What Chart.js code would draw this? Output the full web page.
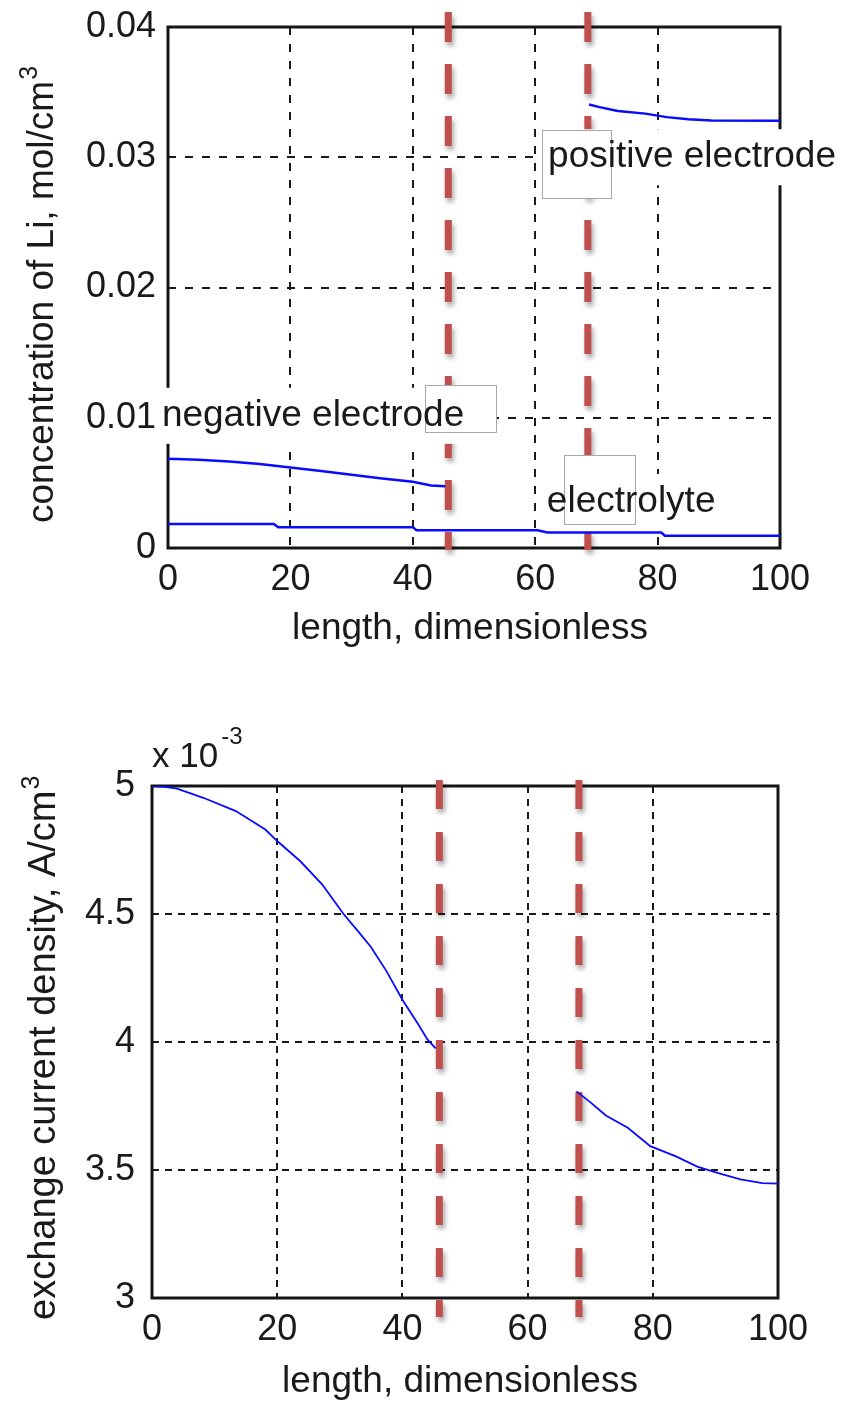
<!DOCTYPE html>
<html>
<head>
<meta charset="utf-8">
<script src="https://cdn.jsdelivr.net/npm/chart.js@4/dist/chart.umd.min.js"></script>
<style>
  html, body { margin: 0; padding: 0; background: #fff; }
  body { width: 842px; height: 1406px; position: relative; overflow: hidden; }
  .wrap { position: absolute; left: 0; width: 842px; }
  #w1 { top: 0; height: 700px; }
  #w2 { top: 700px; height: 706px; }
</style>
</head>
<body>
<div class="wrap" id="w1"><canvas id="c1" width="842" height="700"></canvas></div>
<div class="wrap" id="w2"><canvas id="c2" width="842" height="706"></canvas></div>
<script>
// ---------- data ----------
const xTickValues = [0, 20, 40, 60, 80, 100];
const xTickLabels = ['0', '20', '40', '60', '80', '100'];
const topYTickValues = [0, 0.01, 0.02, 0.03, 0.04];
const topYTickLabels = ['0', '0.01', '0.02', '0.03', '0.04'];
const botYTickValues = [3, 3.5, 4, 4.5, 5];
const botYTickLabels = ['3', '3.5', '4', '4.5', '5'];

// top chart: concentration of Li (mol/cm^3)
const negElectrodeX = [0, 5, 10, 15, 20, 25, 30, 35, 40, 43, 45.3];
const negElectrodeC = [0.00685, 0.00678, 0.00664, 0.00645, 0.00618, 0.00592, 0.00562, 0.00534, 0.00508, 0.0048, 0.00474];
const electrolyteX = [0, 17.3, 18, 40, 40.6, 60.4, 62, 80.6, 81.2, 100];
const electrolyteC = [0.00185, 0.00185, 0.0016, 0.0016, 0.00136, 0.00136, 0.00119, 0.00119, 0.00094, 0.00094];
const posElectrodeX = [68.8, 70.5, 73.5, 78, 81.5, 85, 88.8, 100];
const posElectrodeC = [0.03405, 0.03385, 0.03355, 0.03335, 0.03308, 0.03292, 0.03282, 0.0328];

// bottom chart: exchange current density (x 10^-3 A/cm^3)
const exNegX = [0, 2, 4, 8.2, 13.4, 18.1, 20, 23.7, 27.2, 30.6, 33, 35, 37.5, 40, 42.5, 44, 45.3];
const exNegI = [5.0, 4.997, 4.99, 4.954, 4.902, 4.83, 4.785, 4.706, 4.615, 4.5, 4.43, 4.37, 4.275, 4.165, 4.07, 4.01, 3.975];
const exPosX = [67.8, 70, 72.5, 76, 79.6, 83.7, 87.1, 90.6, 94, 97.5, 100];
const exPosI = [3.807, 3.765, 3.713, 3.665, 3.593, 3.553, 3.513, 3.487, 3.463, 3.449, 3.447];

// region boundaries (dimensionless length) and their vertical extent
const boundaryTopX = [45.8, 68.6];
const boundaryTopSpan = [0.04115, -0.00015];
const boundaryBotX = [45.9, 68.2];
const boundaryBotSpan = [5.023, 2.926];

// ---------- helpers ----------
const FONT = "'Liberation Sans', Arial, Helvetica, sans-serif";
const TXT = '#1a1a1a';
const zip = (xs, ys) => xs.map((x, i) => ({ x: x, y: ys[i] }));

function blueSet(xs, ys, w) {
  return { data: zip(xs, ys), showLine: true, borderColor: '#0a0aff', borderWidth: w,
           pointRadius: 0, tension: 0, fill: false };
}
function boundarySets(xs, span, dash) {
  return xs.map(x => ({ data: span.map(v => ({ x: x, y: v })), showLine: true,
    borderColor: '#c0504d', borderWidth: 7, borderDash: dash, borderCapStyle: 'butt',
    pointRadius: 0, clip: false, boundary: true }));
}

const framePlugin = {
  id: 'frame',
  beforeDatasetsDraw(chart) {
    const a = chart.chartArea, ctx = chart.ctx;
    ctx.save();
    ctx.strokeStyle = '#151515';
    ctx.lineWidth = 3;
    ctx.setLineDash([]);
    ctx.strokeRect(a.left, a.top, a.right - a.left, a.bottom - a.top);
    ctx.restore();
  },
  beforeDatasetDraw(chart, args) {
    const ds = chart.data.datasets[args.index];
    if (ds.boundary) {
      const ctx = chart.ctx;
      ctx.save();
      ctx.shadowColor = 'rgba(0,0,0,0.35)';
      ctx.shadowBlur = 5;
      ctx.shadowOffsetX = 2;
      ctx.shadowOffsetY = 4;
    }
  },
  afterDatasetDraw(chart, args) {
    const ds = chart.data.datasets[args.index];
    if (ds.boundary) chart.ctx.restore();
  }
};

function drawRotTitle(ctx, text, sup, baseX, startY, size, supSize) {
  ctx.save();
  ctx.translate(baseX, startY);
  ctx.rotate(-Math.PI / 2);
  ctx.fillStyle = TXT;
  ctx.textAlign = 'left';
  ctx.textBaseline = 'alphabetic';
  ctx.font = size + 'px ' + FONT;
  ctx.fillText(text, 0, 0);
  const w = ctx.measureText(text).width;
  ctx.font = supSize + 'px ' + FONT;
  ctx.fillText(sup, w + 1, -size * 0.42);
  ctx.restore();
}

const annotPlugin = {
  id: 'annot',
  afterDatasetsDraw(chart, args, opts) {
    const ctx = chart.ctx, xs = chart.scales.x, ys = chart.scales.y;
    ctx.save();
    ctx.font = '37px ' + FONT;
    // text backgrounds
    (opts.texts || []).forEach(t => {
      const px = xs.getPixelForValue(t.x), py = ys.getPixelForValue(t.y);
      const w = ctx.measureText(t.text).width;
      ctx.fillStyle = '#ffffff';
      ctx.fillRect(px - 5, py - 28, w + 10, 56);
    });
    // overlay boxes
    (opts.boxes || []).forEach(b => {
      const x0 = xs.getPixelForValue(b.x0), x1 = xs.getPixelForValue(b.x1);
      const y0 = ys.getPixelForValue(b.y0), y1 = ys.getPixelForValue(b.y1);
      ctx.fillStyle = '#ffffff';
      ctx.fillRect(x0, y0, x1 - x0, y1 - y0);
      ctx.strokeStyle = '#a8a8a8';
      ctx.lineWidth = 1;
      ctx.strokeRect(Math.round(x0) + 0.5, Math.round(y0) + 0.5, Math.round(x1 - x0), Math.round(y1 - y0));
    });
    // texts
    ctx.fillStyle = TXT;
    ctx.textAlign = 'left';
    ctx.textBaseline = 'middle';
    (opts.texts || []).forEach(t => {
      ctx.fillText(t.text, xs.getPixelForValue(t.x), ys.getPixelForValue(t.y));
    });
    ctx.restore();
  },
  afterDraw(chart, args, opts) {
    const ctx = chart.ctx;
    if (opts.yTitle) {
      const t = opts.yTitle;
      drawRotTitle(ctx, t.text, t.sup, t.baseX, t.startY, t.size, t.supSize);
    }
    if (opts.xTitle) {
      ctx.save();
      ctx.fillStyle = TXT;
      ctx.font = opts.xTitle.size + 'px ' + FONT;
      ctx.textAlign = 'center';
      ctx.textBaseline = 'alphabetic';
      ctx.fillText(opts.xTitle.text, opts.xTitle.cx, opts.xTitle.baseY);
      ctx.restore();
    }
    if (opts.multiplier) {
      const m = opts.multiplier;
      ctx.save();
      ctx.fillStyle = TXT;
      ctx.textAlign = 'left';
      ctx.textBaseline = 'alphabetic';
      ctx.font = '35px ' + FONT;
      ctx.fillText(m.text, m.x, m.baseY);
      const w = ctx.measureText(m.text).width;
      ctx.font = '24px ' + FONT;
      ctx.fillText(m.sup, m.x + w + 3, m.baseY - 23);
      ctx.restore();
    }
  }
};

function makeScales(yVals, yLabels, yMin, yMax, yWidth, xHeight, dash, yPad) {
  return {
    x: {
      type: 'linear', min: 0, max: 100,
      afterBuildTicks: s => { s.ticks = xTickValues.map(v => ({ value: v })); },
      afterFit: s => { s.height = xHeight; s.paddingLeft = 0; s.paddingRight = 0; },
      ticks: { font: { family: FONT, size: 36 }, color: TXT, padding: 10, maxRotation: 0,
               callback: (v) => xTickLabels[xTickValues.indexOf(v)] },
      grid: { color: '#1a1a1a', lineWidth: 2, drawTicks: false },
      border: { display: false, dash: dash }
    },
    y: {
      type: 'linear', min: yMin, max: yMax,
      afterBuildTicks: s => { s.ticks = yVals.map(v => ({ value: v })); },
      afterFit: s => { s.width = yWidth; s.paddingTop = 0; s.paddingBottom = 0; },
      ticks: { font: { family: FONT, size: 36 }, color: TXT, padding: yPad,
               callback: (v) => { const i = yVals.findIndex(t => Math.abs(t - v) < 1e-9); return i >= 0 ? yLabels[i] : ''; } },
      grid: { color: '#1a1a1a', lineWidth: 2, drawTicks: false },
      border: { display: false, dash: dash }
    }
  };
}

// ---------- top chart ----------
new Chart(document.getElementById('c1'), {
  type: 'scatter',
  data: {
    datasets: [
      blueSet(negElectrodeX, negElectrodeC, 2.5),
      blueSet(electrolyteX, electrolyteC, 2.5),
      blueSet(posElectrodeX, posElectrodeC, 2.5),
      ...boundarySets(boundaryTopX, boundaryTopSpan, [30, 22])
    ]
  },
  options: {
    responsive: false, animation: false, devicePixelRatio: 1,
    layout: { padding: { top: 27, right: 62, left: 0, bottom: 0 } },
    scales: makeScales(topYTickValues, topYTickLabels, 0, 0.04, 168, 152, [8, 9], 12),
    plugins: {
      legend: { display: false }, tooltip: { enabled: false },
      annot: {
        texts: [
          { text: 'negative electrode', x: -1.0, y: 0.01015 },
          { text: 'electrolyte', x: 61.9, y: 0.00353 },
          { text: 'positive electrode', x: 62.1, y: 0.03 }
        ],
        boxes: [
          { x0: 42.0, x1: 53.6, y0: 0.01251, y1: 0.00891 },
          { x0: 64.7, x1: 76.3, y0: 0.00714, y1: 0.00184 },
          { x0: 61.1, x1: 72.4, y0: 0.03209, y1: 0.02687 }
        ],
        yTitle: { text: 'concentration of Li, mol/cm', sup: '3', baseX: 53, startY: 523, size: 37, supSize: 25 },
        xTitle: { text: 'length, dimensionless', cx: 470, baseY: 639, size: 37 }
      }
    }
  },
  plugins: [framePlugin, annotPlugin]
});

// ---------- bottom chart ----------
new Chart(document.getElementById('c2'), {
  type: 'scatter',
  data: {
    datasets: [
      blueSet(exNegX, exNegI, 1.8),
      blueSet(exPosX, exPosI, 1.8),
      ...boundarySets(boundaryBotX, boundaryBotSpan, [29, 23])
    ]
  },
  options: {
    responsive: false, animation: false, devicePixelRatio: 1,
    layout: { padding: { top: 86, right: 64, left: 0, bottom: 0 } },
    scales: makeScales(botYTickValues, botYTickLabels, 3, 5, 152, 108, [7, 6], 17),
    plugins: {
      legend: { display: false }, tooltip: { enabled: false },
      annot: {
        texts: [], boxes: [],
        yTitle: { text: 'exchange current density, A/cm', sup: '3', baseX: 55, startY: 620, size: 38, supSize: 25 },
        xTitle: { text: 'length, dimensionless', cx: 460, baseY: 692, size: 37 },
        multiplier: { text: 'x 10', sup: '-3', x: 152, baseY: 67 }
      }
    }
  },
  plugins: [framePlugin, annotPlugin]
});
</script>
</body>
</html>
